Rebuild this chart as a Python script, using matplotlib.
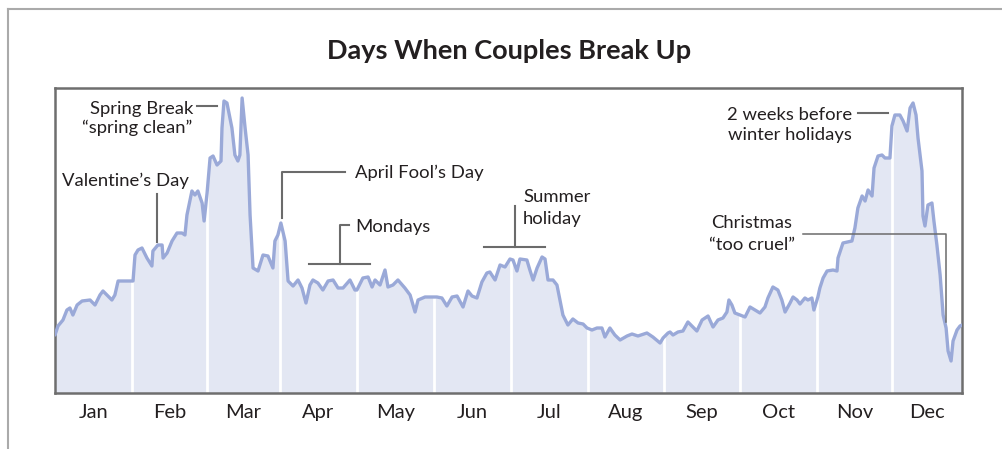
import matplotlib
matplotlib.use("Agg")
import matplotlib.pyplot as plt
from matplotlib.lines import Line2D

# ---- data (day of year, relative break-up volume) ----
days = [0, 1.2, 3.2, 4.8, 6.0, 7.2, 8.9, 10.9, 14.1, 16.1, 18.1, 19.3, 21.3, 22.9, 24.1,
        25.4, 29.0, 31.4, 32.2, 33.4, 35.0, 37.0, 39.0, 39.4, 41.4, 43.1, 43.5, 45.1,
        47.1, 49.1, 51.1, 52.3, 53.1, 55.1, 56.3, 57.5, 59.2, 60.0, 61.2, 62.4, 63.6,
        65.2, 66.8, 67.2, 68.0, 69.2, 71.2, 72.4, 73.6, 74.4, 75.3, 76.5, 77.7, 78.5,
        79.3, 79.7, 81.7, 83.7, 85.7, 87.7, 88.5, 89.7, 90.9, 92.6, 93.8, 95.8, 97.8,
        99.4, 101.0, 102.6, 103.8, 105.8, 107.8, 109.9, 111.9, 113.9, 115.9, 118.7,
        120.7, 121.5, 123.9, 126.0, 127.6, 128.8, 130.8, 132.8, 134.0, 136.0, 138.0,
        140.8, 142.9, 144.9, 146.1, 148.9, 153.7, 155.7, 157.7, 159.8, 161.8, 164.2,
        166.2, 167.8, 169.8, 171.8, 173.8, 175.0, 177.1, 179.1, 181.1, 183.1, 184.3,
        185.9, 187.1, 189.9, 191.1, 192.4, 194.0, 196.0, 197.2, 198.4, 200.4, 202.0,
        203.2, 204.4, 206.4, 208.4, 210.5, 212.5, 214.1, 216.1, 218.1, 220.1, 221.3,
        223.3, 225.3, 227.4, 230.2, 232.2, 234.6, 238.2, 240.6, 243.5, 244.7, 246.7,
        247.5, 248.7, 250.7, 252.7, 254.7, 256.7, 258.3, 260.4, 262.8, 264.8, 266.8,
        268.8, 270.4, 271.2, 272.4, 273.6, 275.6, 277.7, 279.7, 281.7, 283.7, 285.7,
        286.9, 288.9, 290.9, 292.5, 293.8, 295.8, 297.0, 298.6, 299.8, 301.8, 303.0,
        304.6, 305.4, 307.0, 307.8, 309.1, 310.7, 313.1, 314.7, 315.1, 317.1, 320.7,
        321.9, 323.1, 324.8, 326.0, 327.2, 328.8, 329.6, 331.2, 332.8, 334.0, 336.0,
        336.8, 338.0, 340.0, 341.3, 342.9, 344.1, 345.3, 346.5, 347.3, 348.9, 349.3,
        350.1, 351.3, 352.9, 353.7, 354.9, 356.2, 357.4, 358.6, 359.4, 360.6, 361.4,
        363.0, 364.2, 365.0]
values = [58, 67, 73, 83, 85, 78, 88, 92, 93, 88, 98, 102, 97, 93, 98,
          112, 112, 112, 138, 143, 145, 135, 127, 142, 148, 148, 135, 140,
          152, 160, 160, 158, 178, 202, 198, 202, 190, 172, 200, 235, 237,
          228, 232, 265, 292, 290, 265, 238, 232, 238, 295, 265, 238, 178,
          142, 125, 122, 138, 137, 125, 152, 158, 170, 152, 112, 107, 113,
          105, 90, 108, 113, 110, 103, 112, 113, 105, 105, 113,
          103, 103, 115, 116, 106, 113, 108, 123, 106, 108, 113,
          105, 98, 81, 93, 96, 96, 95, 87, 96, 97, 86,
          102, 97, 95, 111, 120, 121, 113, 128, 126, 134, 133,
          122, 134, 133, 123, 113, 125, 136, 134, 113, 113, 108,
          93, 78, 68, 74, 70, 69, 65, 63, 65, 65, 56,
          65, 58, 53, 57, 59, 57, 60, 56, 50, 55, 60,
          61, 58, 61, 62, 71, 66, 62, 73, 77, 66, 73,
          75, 81, 93, 88, 80, 78, 76, 86, 83, 80, 86,
          95, 106, 103, 93, 81, 90, 96, 93, 89, 95, 93,
          95, 83, 96, 105, 115, 122, 123, 122, 135, 150, 152,
          165, 185, 197, 192, 203, 197, 225, 237, 238, 235, 235,
          267, 278, 278, 272, 262, 285, 290, 278, 255, 222, 177,
          167, 188, 190, 172, 148, 118, 78, 65, 42, 32, 52,
          63, 67, 68]

month_labels = ["Jan", "Feb", "Mar", "Apr", "May", "Jun",
                "Jul", "Aug", "Sep", "Oct", "Nov", "Dec"]
month_edges = [0, 31, 61, 90.5, 121.5, 152.5, 183.5, 214.5, 245, 275.5, 306.5, 337, 365]

title = "Days When Couples Break Up"

# ---- style ----
FONT = ["Lato", "DejaVu Sans"]
plt.rcParams["font.family"] = FONT
LINE_C = "#9aa9d8"
FILL_C = "#e3e7f3"
TEXT_C = "#231f20"
LEAD_C = "#6b6b6b"
W, H = 1002, 449

fig = plt.figure(figsize=(W / 100, H / 100), dpi=100)


def fx(x):
    return x / W


def fy(y):
    return 1 - y / H


ax = fig.add_axes([fx(55), fy(393), 907 / W, 305 / H])
ax.set_xlim(0, 365)
ax.set_ylim(0, 305)
ax.fill_between(days, values, 0, color=FILL_C, lw=0, zorder=1)
for e in month_edges[1:-1]:
    ax.axvline(e, color="white", lw=2, zorder=2)
ax.plot(days, values, color=LINE_C, lw=2.4, zorder=3,
        solid_joinstyle="round", solid_capstyle="round")

mids = [(a + b) / 2 for a, b in zip(month_edges[:-1], month_edges[1:])]
ax.set_xticks(mids)
ax.set_xticklabels(month_labels, fontsize=14.5, color=TEXT_C)
ax.tick_params(axis="x", length=0, pad=8)
ax.set_yticks([])
for s in ax.spines.values():
    s.set_color("#6e6e6e")
    s.set_linewidth(1.8)

# outer frame (top and left edges)
fig.add_artist(Line2D([fx(7.5), fx(7.5)], [fy(9), fy(460)], color="#aaaaaa", lw=1.5))
fig.add_artist(Line2D([fx(7.5), fx(1010)], [fy(9), fy(9)], color="#aaaaaa", lw=1.5))

fig.text(fx(509), fy(59), title, ha="center", va="baseline",
         fontsize=19.5, fontweight="bold", color=TEXT_C)


def txt(x, y, s, ha="left"):
    fig.text(fx(x), fy(y), s, ha=ha, va="baseline", fontsize=13.3, color=TEXT_C)


def lead(xs, ys, lw=1.5):
    fig.add_artist(Line2D([fx(v) for v in xs], [fy(v) for v in ys],
                          color=LEAD_C, lw=lw, zorder=5))


# Spring break
txt(193, 114, "Spring Break", "right")
txt(192, 133, "\u201cspring clean\u201d", "right")
lead([197, 217], [106, 106])
# Valentine's
txt(125, 186, "Valentine\u2019s Day", "center")
lead([156.5, 156.5], [194, 242])
# April fool
txt(355, 178, "April Fool\u2019s Day")
lead([345, 282, 282], [172, 172, 218])
# Mondays
txt(355, 232, "Mondays")
lead([349, 340, 340], [225, 225, 264])
lead([309, 370], [264, 264])
# Summer holiday
txt(523, 202, "Summer")
txt(523, 224, "holiday")
lead([515, 515], [206, 247])
lead([484, 545], [247, 247])
# 2 weeks before
txt(790, 120, "2 weeks before", "center")
txt(790, 140, "winter holidays", "center")
lead([858, 888], [113, 113])
# Christmas
txt(752, 228, "Christmas", "center")
txt(752, 250, "\u201ctoo cruel\u201d", "center")
lead([803, 946, 946], [234, 234, 322], lw=1.1)

fig.savefig("out.png", dpi=100)
